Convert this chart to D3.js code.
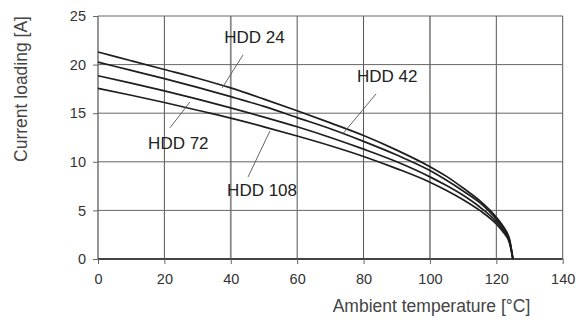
<!DOCTYPE html>
<html><head><meta charset="utf-8">
<script src="https://cdn.jsdelivr.net/npm/d3@7"></script>
<style>
html,body{margin:0;padding:0;background:#fff;}
svg{display:block;font-family:"Liberation Sans",Arial,sans-serif;}
</style></head>
<body>
<svg id="chart" width="582" height="320"></svg>
<script>
// ---- data ----
const temps  = [0,10,20,30,40,50,60,70,80,90,100,105,110,115,120,122,124,125];
const hdd24  = [21.3,20.4,19.5,18.6,17.6,16.45,15.25,14.0,12.7,11.2,9.5,8.5,7.3,6.0,4.3,3.4,2.0,0];
const hdd42  = [20.25,19.4,18.55,17.65,16.7,15.7,14.55,13.4,12.1,10.7,9.1,8.1,7.0,5.8,4.1,3.2,1.9,0];
const hdd72  = [18.85,18.1,17.3,16.45,15.55,14.6,13.6,12.5,11.3,10.0,8.45,7.55,6.55,5.35,3.85,3.0,1.75,0];
const hdd108 = [17.55,16.85,16.1,15.3,14.5,13.6,12.65,11.65,10.55,9.3,7.9,7.05,6.1,5.0,3.6,2.8,1.6,0];
const seriesNames = ["HDD 24","HDD 42","HDD 72","HDD 108"];
const xTicks = [0,20,40,60,80,100,120,140];
const yTicks = [0,5,10,15,20,25];
// label anchor (temp, current) and leader line endpoints (temp, current)
const labelPos = [[38.0,22.2],[78.0,18.2],[15.1,11.3],[38.9,6.5]];
const leaderFrom = [[43.7,21.0],[83.8,17.0],[21.7,13.5],[45.2,8.44]];
const leaderTo   = [[37.4,17.6],[73.8,12.9],[27.7,16.15],[51.8,13.17]];
const xTitle = "Ambient temperature [°C]";
const yTitle = "Current loading [A]";

const allSeries = [hdd24,hdd42,hdd72,hdd108];

const svg = d3.select("#chart");
const x = d3.scaleLinear().domain([0,140]).range([98,562.7]);
const y = d3.scaleLinear().domain([0,25]).range([259,16]);

// grid
const g = svg.append("g");
g.selectAll("line.v").data(xTicks).join("line")
  .attr("x1",d=>x(d)).attr("x2",d=>x(d)).attr("y1",y(25)).attr("y2",y(0))
  .attr("stroke",d=>(d===0||d===40||d===100)?"#8a8a8a":"#555")
  .attr("stroke-width",d=>(d===0||d===40||d===100)?1.8:1);
g.selectAll("line.h").data(yTicks).join("line")
  .attr("x1",x(0)).attr("x2",x(140)).attr("y1",d=>y(d)).attr("y2",d=>y(d))
  .attr("stroke",d=>d===0?"#444":"#666").attr("stroke-width",d=>d===0?1.8:1);

// axes with tick marks
const xAxis = d3.axisBottom(x).tickValues(xTicks).tickSize(5).tickPadding(10);
const gx = svg.append("g").attr("transform",`translate(0,${y(0)})`).call(xAxis);
gx.select(".domain").remove();
gx.selectAll(".tick line").attr("stroke","#666");
gx.selectAll(".tick text").attr("fill","#333").attr("font-size",14.5)
  .attr("font-family","Liberation Sans, Arial, sans-serif");

const yAxis = d3.axisLeft(y).tickValues(yTicks).tickSize(5).tickPadding(7);
const gy = svg.append("g").attr("transform",`translate(${x(0)},0)`).call(yAxis);
gy.select(".domain").remove();
gy.selectAll(".tick line").attr("stroke","#666");
gy.selectAll(".tick text").attr("fill","#333").attr("font-size",14.5)
  .attr("font-family","Liberation Sans, Arial, sans-serif");

// curves
const line = d3.line().x(d=>x(d[0])).y(d=>y(d[1])).curve(d3.curveMonotoneX);
allSeries.forEach(s=>{
  svg.append("path").datum(temps.map((t,i)=>[t,s[i]]))
    .attr("d",line).attr("fill","none").attr("stroke","#1e1e1e").attr("stroke-width",1.7);
});

// leader lines and labels
seriesNames.forEach((n,i)=>{
  svg.append("line")
    .attr("x1",x(leaderFrom[i][0])).attr("y1",y(leaderFrom[i][1]))
    .attr("x2",x(leaderTo[i][0])).attr("y2",y(leaderTo[i][1]))
    .attr("stroke","#555").attr("stroke-width",0.9);
  svg.append("text").attr("x",x(labelPos[i][0])).attr("y",y(labelPos[i][1]))
    .attr("font-size",17).attr("fill","#222").text(n);
});

// axis titles
svg.append("text").attr("x",431.5).attr("y",312).attr("text-anchor","middle")
  .attr("font-size",17.5).attr("fill","#444").text(xTitle);
svg.append("text").attr("transform","translate(27,89) rotate(-90)").attr("text-anchor","middle")
  .attr("font-size",17.5).attr("fill","#444").text(yTitle);
</script>
</body></html>
